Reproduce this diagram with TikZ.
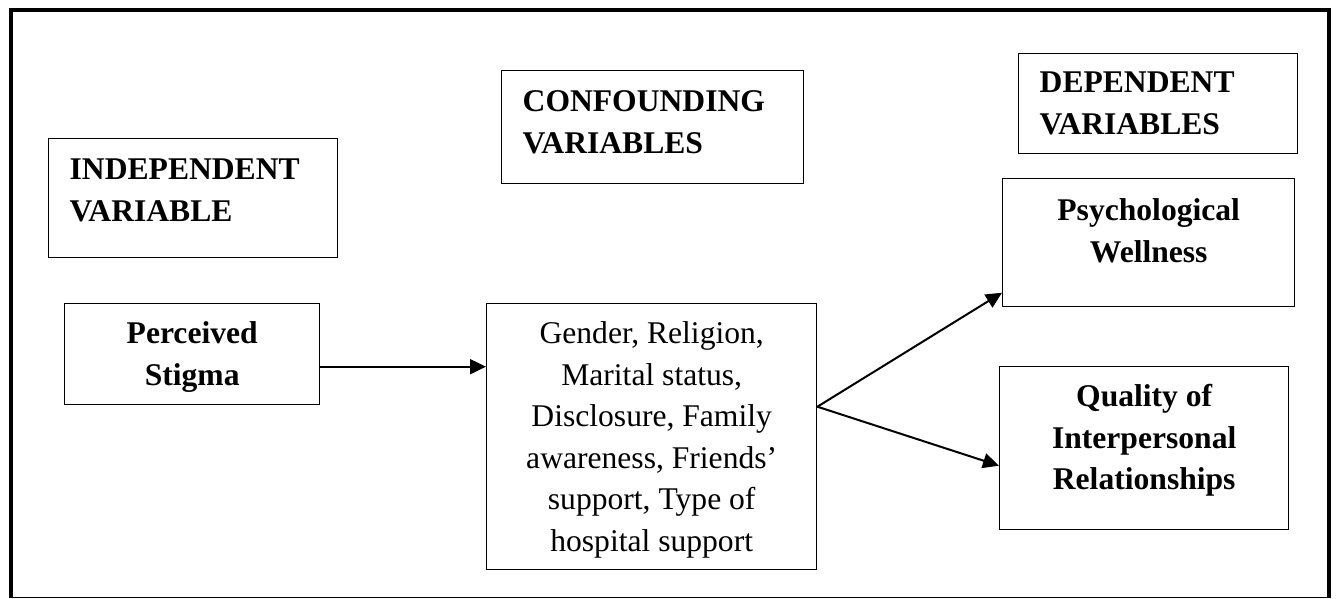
\documentclass[tikz,border=0pt]{standalone}
\usepackage{fontspec}
\setmainfont{Liberation Serif}
\usepackage{tikz}
\usetikzlibrary{
  positioning,
  arrows.meta,
  calc,
  }

\begin{document}
\begin{tikzpicture}[x=0.5pt, y=-0.5pt,
    every node/.style={draw, line width=0.7pt, anchor=north west, inner xsep=10.5pt, inner ysep=0pt,
        font=\fontsize{15.8}{20.75}\selectfont},
    head/.style={font=\fontsize{15.8}{20.75}\selectfont\bfseries, align=left},
    var/.style={font=\fontsize{15.8}{20.75}\selectfont\bfseries, align=flush center},
    link/.style={line width=1pt, -{Triangle[length=8pt, width=7.5pt]}},
    ]
    \useasboundingbox (0,0) rectangle (1338,599);
    % outer frame
    \draw[line width=2pt] (10.5,597.5) -- (10.5,10) -- (1328.5,10) -- (1328.5,597.5);
    \draw[line width=0.7pt] (10.5,597.5) -- (1328.5,597.5);

    \node[head, text width=123.5pt, text height=20.5pt, text depth=39pt] (indep) at (48,138) {INDEPENDENT\\VARIABLE};
    \node[head, text width=130pt, text height=20.5pt, text depth=36pt] (conf) at (501,70) {CONFOUNDING\\VARIABLES};
    \node[head, text width=118.5pt, text height=19.5pt, text depth=30.5pt] (dep) at (1018,53) {DEPENDENT\\VARIABLES};

    \node[var, text width=106.5pt, text height=20pt, text depth=30.5pt] (stigma) at (64,303) {Perceived\\Stigma};
    \node[align=flush center, text width=144pt, text height=20pt, text depth=113pt] (factors) at (486,303)
        {Gender, Religion,\\Marital status,\\Disclosure, Family\\awareness, Friends’\\support, Type of\\hospital support};
    \node[var, text width=125pt, text height=21pt, text depth=43pt] (psych) at (1002,178) {Psychological\\Wellness};
    \node[var, text width=123.5pt, text height=20pt, text depth=61.5pt] (quality) at (999,366) {Quality of\\Interpersonal\\Relationships};

    % connectors
    \coordinate (s1) at ([yshift=-6.25pt]stigma.east);
    \coordinate (f1) at ([yshift=15pt]factors.east);
    \draw[link] (s1) -- (s1 -| factors.west);
    \draw[link] (f1) -- ([yshift=-25pt]psych.west);
    \draw[link] (f1) -- ([yshift=-8.75pt]quality.west);
\end{tikzpicture}
\end{document}
